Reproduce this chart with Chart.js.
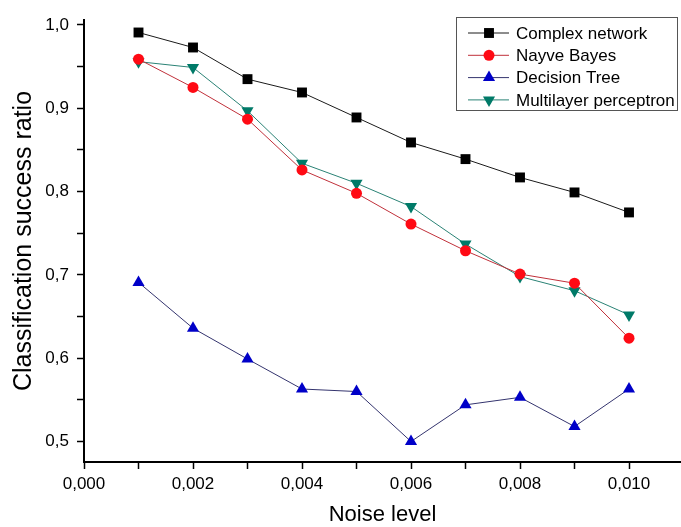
<!DOCTYPE html>
<html>
<head>
<meta charset="utf-8">
<script src="https://cdn.jsdelivr.net/npm/chart.js@4/dist/chart.umd.min.js"></script>
<style>
  html, body { margin: 0; padding: 0; background: #fff; }
  #wrap { width: 681px; height: 527px; position: relative; }
</style>
</head>
<body>
<div id="wrap"><canvas id="chart"></canvas></div>
<script>
// Data
const noiseLevel = [0.001, 0.002, 0.003, 0.004, 0.005, 0.006, 0.007, 0.008, 0.009, 0.010];
const complexNetwork = [0.991, 0.973, 0.935, 0.919, 0.889, 0.859, 0.839, 0.817, 0.799, 0.775];
const nayveBayes = [0.959, 0.925, 0.887, 0.826, 0.798, 0.761, 0.729, 0.701, 0.690, 0.624];
const decisionTree = [0.691, 0.636, 0.599, 0.563, 0.560, 0.500, 0.544, 0.553, 0.518, 0.563];
const multilayerPerceptron = [0.956, 0.949, 0.897, 0.834, 0.810, 0.782, 0.737, 0.698, 0.681, 0.652];

const seriesNames = ['Complex network', 'Nayve Bayes', 'Decision Tree', 'Multilayer perceptron'];

// Ticks (minor ones get no label)
const xTicks = [0, 0.001, 0.002, 0.003, 0.004, 0.005, 0.006, 0.007, 0.008, 0.009, 0.010];
const yTicks = [0.5, 0.55, 0.6, 0.65, 0.7, 0.75, 0.8, 0.85, 0.9, 0.95, 1.0];

const FONT = "'Liberation Sans', Arial, sans-serif";

function toPoints(values) {
    return values.map((v, i) => ({ x: noiseLevel[i], y: v }));
}

// Styles per series
const STYLES = [
    { line: '#1a1a1a', fill: '#000000', pointStyle: 'rect', radius: 7, rotation: 0 },
    { line: '#c0303a', fill: '#ff0a14', pointStyle: 'circle', radius: 5.5, rotation: 0 },
    { line: '#34346e', fill: '#0000c8', pointStyle: 'triangle', radius: 7, rotation: 0 },
    { line: '#2a8275', fill: '#007a68', pointStyle: 'triangle', radius: 7, rotation: 180 }
];

const seriesValues = [complexNetwork, nayveBayes, decisionTree, multilayerPerceptron];

const datasets = seriesValues.map((vals, i) => ({
    label: seriesNames[i],
    data: toPoints(vals),
    borderColor: STYLES[i].line,
    borderWidth: 1,
    pointStyle: STYLES[i].pointStyle,
    pointRadius: STYLES[i].radius,
    pointRotation: STYLES[i].rotation,
    pointBackgroundColor: STYLES[i].fill,
    pointBorderColor: STYLES[i].fill,
    pointBorderWidth: 0,
    tension: 0,
    fill: false
}));

// Boxed legend with line + marker samples
const boxLegend = {
    id: 'boxLegend',
    afterDraw(chart) {
        const ctx = chart.ctx;
        const box = { x: 456, y: 17, w: 221, h: 93 };
        ctx.save();
        ctx.fillStyle = '#fff';
        ctx.fillRect(box.x, box.y, box.w, box.h);
        ctx.strokeStyle = '#555';
        ctx.lineWidth = 1;
        ctx.strokeRect(box.x + 0.5, box.y + 0.5, box.w, box.h);
        ctx.font = '17px ' + FONT;
        ctx.textBaseline = 'middle';
        chart.data.datasets.forEach((ds, i) => {
            const y = 33 + i * 22.3;
            ctx.strokeStyle = ds.borderColor;
            ctx.lineWidth = 1;
            ctx.beginPath();
            ctx.moveTo(468, y);
            ctx.lineTo(509, y);
            ctx.stroke();
            ctx.fillStyle = ds.pointBackgroundColor;
            ctx.strokeStyle = ds.pointBorderColor;
            Chart.helpers.drawPoint(ctx, {
                pointStyle: ds.pointStyle,
                radius: ds.pointRadius,
                rotation: ds.pointRotation,
                borderWidth: 0
            }, 489, y);
            ctx.fillStyle = '#000';
            ctx.fillText(ds.label, 516, y + 1);
        });
        ctx.restore();
    }
};

new Chart(document.getElementById('chart'), {
    type: 'line',
    data: { datasets: datasets },
    options: {
        responsive: true,
        maintainAspectRatio: false,
        animation: false,
        layout: { autoPadding: false, padding: { top: 20, right: 0, left: 0, bottom: 0 } },
        plugins: {
            legend: { display: false },
            tooltip: { enabled: false }
        },
        scales: {
            x: {
                type: 'linear',
                min: 0,
                max: 0.010954,
                afterBuildTicks: scale => { scale.ticks = xTicks.map(v => ({ value: v })); },
                afterFit: scale => {
                    scale.height = 65;
                    scale.paddingLeft = 0;
                    scale.paddingRight = 0;
                },
                border: { color: '#000', width: 2 },
                grid: { drawOnChartArea: false, drawTicks: true, tickLength: 7, tickColor: '#000', tickWidth: 1.5 },
                ticks: {
                    color: '#000',
                    font: { family: FONT, size: 17 },
                    padding: 5,
                    maxRotation: 0,
                    autoSkip: false,
                    callback: (v, i) => (i % 2 === 0 ? v.toFixed(3).replace('.', ',') : '')
                },
                title: {
                    display: true,
                    text: 'Noise level',
                    color: '#000',
                    font: { family: FONT, size: 22, lineHeight: 1 },
                    padding: { top: 0, bottom: 1 }
                }
            },
            y: {
                min: 0.4754,
                max: 1.006,
                afterBuildTicks: scale => { scale.ticks = yTicks.map(v => ({ value: v })); },
                afterFit: scale => {
                    scale.width = 84;
                    scale.paddingTop = 0;
                    scale.paddingBottom = 0;
                },
                border: { color: '#000', width: 2 },
                grid: { drawOnChartArea: false, drawTicks: true, tickLength: 7, tickColor: '#000', tickWidth: 1.5 },
                ticks: {
                    color: '#000',
                    font: { family: FONT, size: 17 },
                    padding: 8,
                    autoSkip: false,
                    callback: (v, i) => (i % 2 === 0 ? v.toFixed(1).replace('.', ',') : '')
                },
                title: {
                    display: true,
                    text: 'Classification success ratio',
                    color: '#000',
                    font: { family: FONT, size: 25, lineHeight: 1 },
                    padding: { top: 12, bottom: 0 }
                }
            }
        }
    },
    plugins: [boxLegend]
});
</script>
</body>
</html>
